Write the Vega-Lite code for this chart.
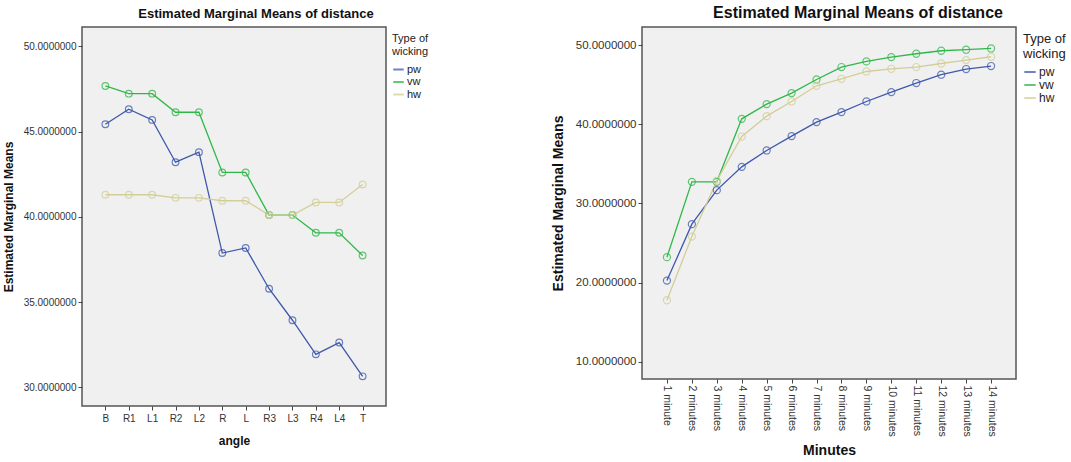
{
  "$schema": "https://vega.github.io/schema/vega-lite/v6.json",
  "background": "white",
  "padding": {"left": 1, "top": 4, "right": 0, "bottom": 0},
  "spacing": 114,
  "config": {
    "font": "Liberation Sans",
    "view": {"fill": "#f0f0f0", "stroke": "#555555", "strokeWidth": 1.5},
    "axis": {"domain": false, "grid": false, "tickColor": "#444444", "tickSize": 4, "labelColor": "#333333", "titleColor": "#111111", "titleFontWeight": "bold"},
    "legend": {"symbolType": "stroke", "symbolStrokeWidth": 2, "titleFontWeight": "normal", "titleColor": "#222222", "labelColor": "#222222", "titleLimit": 200}
  },
  "resolve": {"scale": {"color": "independent"}},
  "hconcat": [
    {
      "width": 304,
      "height": 379,
      "title": {"text": "Estimated Marginal Means of distance", "fontSize": 13, "fontWeight": "bold", "dx": 22, "offset": 6, "color": "#111111"},
      "data": {"values": [
        {"angle": "B", "type": "pw", "mean": 45.43}, {"angle": "R1", "type": "pw", "mean": 46.31}, {"angle": "L1", "type": "pw", "mean": 45.68}, {"angle": "R2", "type": "pw", "mean": 43.2}, {"angle": "L2", "type": "pw", "mean": 43.79}, {"angle": "R", "type": "pw", "mean": 37.87}, {"angle": "L", "type": "pw", "mean": 38.17}, {"angle": "R3", "type": "pw", "mean": 35.78}, {"angle": "L3", "type": "pw", "mean": 33.93}, {"angle": "R4", "type": "pw", "mean": 31.93}, {"angle": "L4", "type": "pw", "mean": 32.62}, {"angle": "T", "type": "pw", "mean": 30.64},
        {"angle": "B", "type": "vw", "mean": 47.67}, {"angle": "R1", "type": "vw", "mean": 47.22}, {"angle": "L1", "type": "vw", "mean": 47.22}, {"angle": "R2", "type": "vw", "mean": 46.13}, {"angle": "L2", "type": "vw", "mean": 46.13}, {"angle": "R", "type": "vw", "mean": 42.6}, {"angle": "L", "type": "vw", "mean": 42.6}, {"angle": "R3", "type": "vw", "mean": 40.1}, {"angle": "L3", "type": "vw", "mean": 40.1}, {"angle": "R4", "type": "vw", "mean": 39.06}, {"angle": "L4", "type": "vw", "mean": 39.06}, {"angle": "T", "type": "vw", "mean": 37.73},
        {"angle": "B", "type": "hw", "mean": 41.29}, {"angle": "R1", "type": "hw", "mean": 41.29}, {"angle": "L1", "type": "hw", "mean": 41.29}, {"angle": "R2", "type": "hw", "mean": 41.11}, {"angle": "L2", "type": "hw", "mean": 41.11}, {"angle": "R", "type": "hw", "mean": 40.94}, {"angle": "L", "type": "hw", "mean": 40.94}, {"angle": "R3", "type": "hw", "mean": 40.1}, {"angle": "L3", "type": "hw", "mean": 40.1}, {"angle": "R4", "type": "hw", "mean": 40.84}, {"angle": "L4", "type": "hw", "mean": 40.84}, {"angle": "T", "type": "hw", "mean": 41.89}
      ]},
      "encoding": {
        "x": {"field": "angle", "type": "ordinal", "sort": ["B","R1","L1","R2","L2","R","L","R3","L3","R4","L4","T"], "scale": {"type": "point", "padding": 1.17},
              "axis": {"title": "angle", "labelAngle": 0, "labelFontSize": 10, "titleFontSize": 12, "labelPadding": 3, "titlePadding": 12}},
        "y": {"field": "mean", "type": "quantitative", "scale": {"domain": [28.9, 51.13], "nice": false, "zero": false},
              "axis": {"title": "Estimated Marginal Means", "values": [30, 35, 40, 45, 50], "format": ".7f", "labelFontSize": 10, "titleFontSize": 12, "titlePadding": 8}},
        "color": {"field": "type", "type": "nominal", "sort": ["pw","vw","hw"], "scale": {"domain": ["pw","vw","hw"], "range": ["#3e58ac", "#2eb848", "#d3ce97"]},
                  "legend": {"title": ["Type of", "wicking"], "titleFontSize": 11, "labelFontSize": 11, "offset": 0, "symbolSize": 110, "rowPadding": 0.5, "labelOffset": 2, "padding": 6, "titlePadding": 6}}
      },
      "layer": [
        {"mark": {"type": "line", "strokeWidth": 1.3}},
        {"mark": {"type": "point", "shape": "circle", "filled": false, "size": 45, "strokeWidth": 1.2, "opacity": 0.75}}
      ]
    },
    {
      "width": 374,
      "height": 352,
      "title": {"text": "Estimated Marginal Means of distance", "fontSize": 16, "fontWeight": "bold", "dx": 29, "offset": 6, "color": "#111111"},
      "data": {"values": [
        {"minute": "1 minute", "type": "pw", "mean": 20.24}, {"minute": "2 minutes", "type": "pw", "mean": 27.37}, {"minute": "3 minutes", "type": "pw", "mean": 31.67}, {"minute": "4 minutes", "type": "pw", "mean": 34.61}, {"minute": "5 minutes", "type": "pw", "mean": 36.68}, {"minute": "6 minutes", "type": "pw", "mean": 38.5}, {"minute": "7 minutes", "type": "pw", "mean": 40.27}, {"minute": "8 minutes", "type": "pw", "mean": 41.53}, {"minute": "9 minutes", "type": "pw", "mean": 42.87}, {"minute": "10 minutes", "type": "pw", "mean": 44.06}, {"minute": "11 minutes", "type": "pw", "mean": 45.2}, {"minute": "12 minutes", "type": "pw", "mean": 46.25}, {"minute": "13 minutes", "type": "pw", "mean": 46.97}, {"minute": "14 minutes", "type": "pw", "mean": 47.35},
        {"minute": "1 minute", "type": "vw", "mean": 23.2}, {"minute": "2 minutes", "type": "vw", "mean": 32.72}, {"minute": "3 minutes", "type": "vw", "mean": 32.72}, {"minute": "4 minutes", "type": "vw", "mean": 40.68}, {"minute": "5 minutes", "type": "vw", "mean": 42.54}, {"minute": "6 minutes", "type": "vw", "mean": 43.93}, {"minute": "7 minutes", "type": "vw", "mean": 45.65}, {"minute": "8 minutes", "type": "vw", "mean": 47.22}, {"minute": "9 minutes", "type": "vw", "mean": 47.93}, {"minute": "10 minutes", "type": "vw", "mean": 48.48}, {"minute": "11 minutes", "type": "vw", "mean": 48.9}, {"minute": "12 minutes", "type": "vw", "mean": 49.28}, {"minute": "13 minutes", "type": "vw", "mean": 49.41}, {"minute": "14 minutes", "type": "vw", "mean": 49.57},
        {"minute": "1 minute", "type": "hw", "mean": 17.76}, {"minute": "2 minutes", "type": "hw", "mean": 25.8}, {"minute": "3 minutes", "type": "hw", "mean": 32.85}, {"minute": "4 minutes", "type": "hw", "mean": 38.44}, {"minute": "5 minutes", "type": "hw", "mean": 41.02}, {"minute": "6 minutes", "type": "hw", "mean": 42.87}, {"minute": "7 minutes", "type": "hw", "mean": 44.85}, {"minute": "8 minutes", "type": "hw", "mean": 45.74}, {"minute": "9 minutes", "type": "hw", "mean": 46.66}, {"minute": "10 minutes", "type": "hw", "mean": 47.0}, {"minute": "11 minutes", "type": "hw", "mean": 47.22}, {"minute": "12 minutes", "type": "hw", "mean": 47.67}, {"minute": "13 minutes", "type": "hw", "mean": 48.1}, {"minute": "14 minutes", "type": "hw", "mean": 48.52}
      ]},
      "encoding": {
        "x": {"field": "minute", "type": "ordinal", "sort": ["1 minute","2 minutes","3 minutes","4 minutes","5 minutes","6 minutes","7 minutes","8 minutes","9 minutes","10 minutes","11 minutes","12 minutes","13 minutes","14 minutes"], "scale": {"type": "point", "padding": 1.26},
              "axis": {"title": "Minutes", "labelAngle": 90, "labelAlign": "left", "labelBaseline": "middle", "labelFontSize": 10.5, "titleFontSize": 14, "labelPadding": 2, "titlePadding": 7}},
        "y": {"field": "mean", "type": "quantitative", "scale": {"domain": [7.81, 52.28], "nice": false, "zero": false},
              "axis": {"title": "Estimated Marginal Means", "values": [10, 20, 30, 40, 50], "format": ".7f", "labelFontSize": 11.5, "titleFontSize": 14, "titlePadding": 10}},
        "color": {"field": "type", "type": "nominal", "sort": ["pw","vw","hw"], "scale": {"domain": ["pw","vw","hw"], "range": ["#3e58ac", "#2eb848", "#d3ce97"]},
                  "legend": {"title": ["Type of", "wicking"], "titleFontSize": 13, "labelFontSize": 12, "offset": 1, "symbolSize": 130, "rowPadding": 0, "labelOffset": 2, "padding": 6, "titlePadding": 4}}
      },
      "layer": [
        {"mark": {"type": "line", "strokeWidth": 1.3}},
        {"mark": {"type": "point", "shape": "circle", "filled": false, "size": 50, "strokeWidth": 1.2, "opacity": 0.75}}
      ]
    }
  ]
}
